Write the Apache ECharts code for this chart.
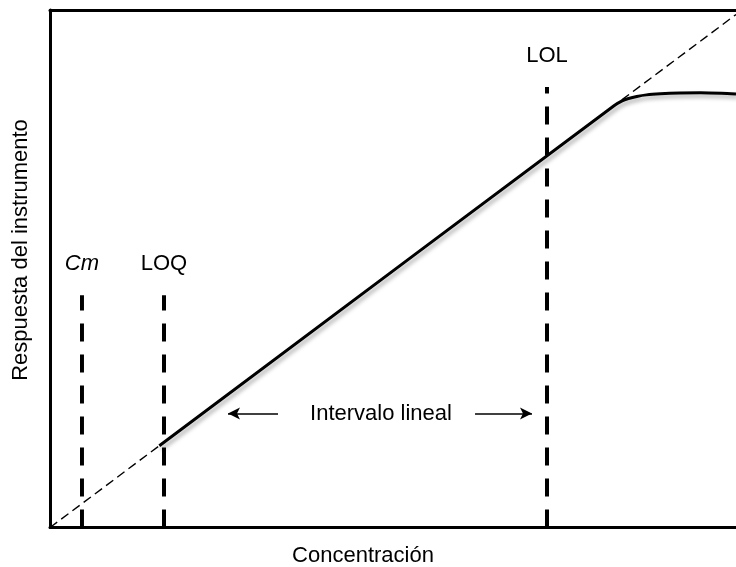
<!DOCTYPE html>
<html>
<head>
<meta charset="utf-8">
<script src="https://cdn.jsdelivr.net/npm/echarts@6/dist/echarts.min.js"></script>
<style>html,body{margin:0;padding:0;background:#fff}#c{width:736px;height:567px}</style>
</head>
<body>
<div id="c"></div>
<script>
// Data (arbitrary concentration / response units)
const xMax = 99.13;
const idealLine = [[0, 0], [99.13, 99.13]];
const responseCurve = [[15.8, 15.8], [81.5, 81.5], [82.6, 82.4], [83.6, 82.9], [84.8, 83.3], [86.2, 83.6], [88.2, 83.8], [91.0, 83.95], [94.0, 84.0], [97.0, 83.9], [99.13, 83.75]];
const limitNames = ['Cm', 'LOQ', 'LOL'];
const limitX = [4.62, 16.47, 71.82];
const limitTop = [44.9, 44.9, 85.1];
const limitLabelY = [51.0, 51.0, 91.2];
const intervalText = 'Intervalo lineal';
const intervalPos = [47.83, 21.9];
const arrowLeft = [[32.95, 22.05], [25.72, 22.05]];
const arrowRight = [[61.42, 22.05], [69.65, 22.05]];
const xTitle = 'Concentración';
const yTitle = 'Respuesta del instrumento';

const FONT = 'Liberation Sans, Arial, sans-serif';
const chart = echarts.init(document.getElementById('c'), null, {renderer: 'canvas'});

const series = [];
series.push({
  type: 'line', data: idealLine, showSymbol: false, symbol: 'none', silent: true,
  lineStyle: {color: '#000', width: 1.4, type: [9, 5]}, z: 2
});
limitX.forEach((x, i) => {
  series.push({
    type: 'line', data: [[x, 0], [x, limitTop[i]]], showSymbol: false, symbol: 'none', silent: true,
    lineStyle: {color: '#000', width: 4, type: [18, 13]}, z: 3
  });
});
series.push({
  type: 'line', data: responseCurve, showSymbol: false, symbol: 'none', smooth: 0.3, silent: true,
  lineStyle: {color: '#000', width: 3, shadowColor: 'rgba(0,0,0,0.35)', shadowBlur: 4, shadowOffsetX: 2, shadowOffsetY: 3}, z: 4
});
// arrows
[arrowLeft, arrowRight].forEach(a => {
  series.push({
    type: 'line', data: [], silent: true,
    markLine: {
      silent: true, symbol: ['none', 'arrow'], symbolSize: [9, 12],
      lineStyle: {color: '#000', width: 1.6, type: 'solid'},
      label: {show: false},
      data: [[{coord: a[0]}, {coord: a[1]}]]
    }
  });
});
// labels
const labelData = limitNames.map((n, i) => ({
  value: [limitX[i], limitLabelY[i]],
  label: {formatter: n, fontStyle: i === 0 ? 'italic' : 'normal'}
}));
labelData.push({value: intervalPos, label: {formatter: intervalText}});
series.push({
  type: 'scatter', data: labelData, symbolSize: 0, silent: true, z: 5,
  itemStyle: {opacity: 1, color: '#000'},
  label: {show: true, position: 'inside', color: '#000', opacity: 1, fontSize: 22, fontFamily: FONT, align: 'center', verticalAlign: 'middle'}
});

const axisCommon = {type: 'value', min: 0, axisTick: {show: false}, axisLabel: {show: false}, splitLine: {show: false}};
chart.setOption({
  animation: false,
  grid: {left: 50, top: 10, right: 0, height: 517.5, show: false},
  xAxis: [
    Object.assign({}, axisCommon, {max: xMax, position: 'bottom', axisLine: {show: true, onZero: false, lineStyle: {color: '#000', width: 3}}}),
    Object.assign({}, axisCommon, {max: xMax, position: 'top', axisLine: {show: true, onZero: false, lineStyle: {color: '#000', width: 3}}})
  ],
  yAxis: Object.assign({}, axisCommon, {max: 100, position: 'left', axisLine: {show: true, onZero: false, lineStyle: {color: '#000', width: 3}}}),
  series: series,
  graphic: [
    {type: 'text', x: 363, y: 556, style: {text: xTitle, fontSize: 22, fontFamily: FONT, fill: '#000', align: 'center', verticalAlign: 'middle'}},
    {type: 'text', x: 21, y: 250, rotation: Math.PI / 2, style: {text: yTitle, fontSize: 22, fontFamily: FONT, fill: '#000', align: 'center', verticalAlign: 'middle'}}
  ]
});
</script>
</body>
</html>
